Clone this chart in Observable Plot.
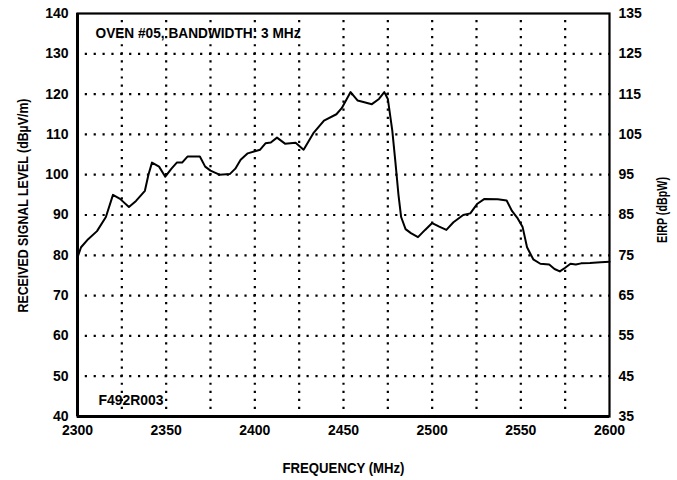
<!DOCTYPE html>
<html>
<head>
<meta charset="utf-8">
<script src="https://cdn.jsdelivr.net/npm/d3@7"></script>
<script src="https://cdn.jsdelivr.net/npm/@observablehq/plot@0.6"></script>
<style>
  html, body { margin: 0; padding: 0; background: #fff; }
  #chart svg { display: block; }
</style>
</head>
<body>
<div id="chart"></div>
<script>
// Frequency (MHz) and received signal level (dBµV/m)
const freq = [2300, 2302, 2306, 2311, 2316, 2320, 2324, 2329, 2333, 2338, 2340, 2342, 2346, 2349.5, 2353, 2356, 2359, 2362, 2369, 2372, 2375, 2380, 2386, 2389, 2392, 2396, 2400, 2403, 2406, 2409, 2412.5, 2417, 2423, 2427.5, 2433, 2439, 2446, 2449, 2454, 2458, 2466, 2470, 2473, 2475, 2477.5, 2479.3, 2481, 2482.5, 2485, 2488, 2492, 2496, 2500, 2504, 2508, 2512, 2517.5, 2521.5, 2525.5, 2529.5, 2537, 2542, 2545, 2548, 2551, 2553.5, 2557, 2561, 2566, 2569, 2572, 2575, 2578, 2581, 2584, 2589, 2595, 2600];
const level = [79.5, 82, 84, 86, 89.5, 95, 94, 92, 93.5, 96, 100, 103, 102, 99.5, 101.5, 103, 103, 104.5, 104.5, 102, 101, 100, 100.2, 101.5, 103.7, 105.3, 105.8, 106.2, 107.8, 108, 109.2, 107.7, 107.9, 106.2, 110.3, 113.4, 115, 116.5, 120.5, 118.4, 117.5, 118.8, 120.5, 118.8, 111, 103, 95, 89.5, 86.5, 85.5, 84.5, 86.3, 88, 87.1, 86.3, 88.2, 90, 90.4, 92.8, 94, 93.9, 93.6, 91, 89.3, 87, 82, 79, 77.9, 77.7, 76.6, 76, 76.9, 77.9, 77.7, 78, 78.1, 78.3, 78.4];

const xTicks = [2300, 2350, 2400, 2450, 2500, 2550, 2600];
const xGrid = [2325, 2350, 2375, 2400, 2425, 2450, 2475, 2500, 2525, 2550, 2575];
const leftTicks = [40, 50, 60, 70, 80, 90, 100, 110, 120, 130, 140];
const rightTickLabels = [35, 45, 55, 65, 75, 85, 95, 105, 115, 125, 135];
const yGrid = [50, 60, 70, 80, 90, 100, 110, 120, 130];

const titleText = "OVEN #05, BANDWIDTH: 3 MHz";
const codeText = "F492R003";
const xTitle = "FREQUENCY (MHz)";
const yLeftTitle = "RECEIVED SIGNAL LEVEL (dB\u00B5V/m)";
const yRightTitle = "EIRP (dBpW)";

const data = freq.map((f, i) => ({f, v: level[i]}));
const rightMap = new Map(leftTicks.map((t, i) => [t, rightTickLabels[i]]));

const font = "'Liberation Sans', Arial, sans-serif";

const chart = Plot.plot({
  width: 677,
  height: 480,
  marginLeft: 77,
  marginRight: 68,
  marginTop: 13,
  marginBottom: 64,
  style: {fontFamily: font, fontSize: "14px", color: "#000", background: "#fff"},
  x: {domain: [2300, 2600]},
  y: {domain: [40, 140]},
  marks: [
    Plot.ruleY(yGrid, {stroke: "#000", strokeWidth: 2.2, strokeDasharray: "2.2,6.67", strokeDashoffset: 1.1}),
    Plot.ruleX(xGrid, {stroke: "#000", strokeWidth: 2.2, strokeDasharray: "2.2,5.86", strokeDashoffset: 1.1}),
    Plot.axisX({ticks: xTicks, tickSize: 0, tickPadding: 9, label: null, fontSize: 14, fontWeight: "bold", tickFormat: d => String(d)}),
    Plot.axisY({anchor: "left", ticks: leftTicks, tickSize: 0, tickPadding: 9, label: null, fontSize: 14, fontWeight: "bold"}),
    Plot.axisY({anchor: "right", ticks: leftTicks, tickSize: 0, tickPadding: 9, label: null, fontSize: 14, fontWeight: "bold", tickFormat: d => rightMap.get(d)}),
    Plot.line(data, {x: "f", y: "v", stroke: "#000", strokeWidth: 2}),
    Plot.frame({stroke: "#000", strokeWidth: 2.2}),
    Plot.ruleY([40], {stroke: "#000", strokeWidth: 3}),
    Plot.ruleX([2300], {stroke: "#000", strokeWidth: 3}),
    Plot.text([titleText], {frameAnchor: "top-left", dx: 18, dy: 15, textAnchor: "start", fontSize: 14, fontWeight: "bold", fontFamily: font, fill: "#000"}),
    Plot.text([codeText], {frameAnchor: "bottom-left", dx: 21, dy: -12, textAnchor: "start", fontSize: 14, fontWeight: "bold", fontFamily: font, fill: "#000"}),
    Plot.text([xTitle], {frameAnchor: "bottom", dy: 56, textAnchor: "middle", fontSize: 14, fontWeight: "bold", fontFamily: font, fill: "#000"}),
    Plot.text([yLeftTitle], {frameAnchor: "left", dx: -54, dy: -9.5, rotate: -90, textAnchor: "middle", lineAnchor: "middle", fontSize: 14, fontWeight: "bold", fontFamily: font, fill: "#000"}),
    Plot.text([yRightTitle], {frameAnchor: "right", dx: 53, dy: -5, rotate: -90, textAnchor: "middle", lineAnchor: "middle", fontSize: 14, fontWeight: "bold", fontFamily: font, fill: "#000"})
  ]
});
document.getElementById("chart").appendChild(chart);

// condense the annotation texts to the widths of the original's narrow type
const squeeze = [["OVEN", 205], ["F492", 65], ["FREQUENCY", 122], ["RECEIVED", 214], ["EIRP", 66]];
d3.select(chart).selectAll("text").each(function () {
  const t = this.textContent || "";
  const hit = squeeze.find(([k]) => t.startsWith(k));
  if (hit) {
    this.setAttribute("textLength", hit[1]);
    this.setAttribute("lengthAdjust", "spacingAndGlyphs");
  }
});
</script>
</body>
</html>
